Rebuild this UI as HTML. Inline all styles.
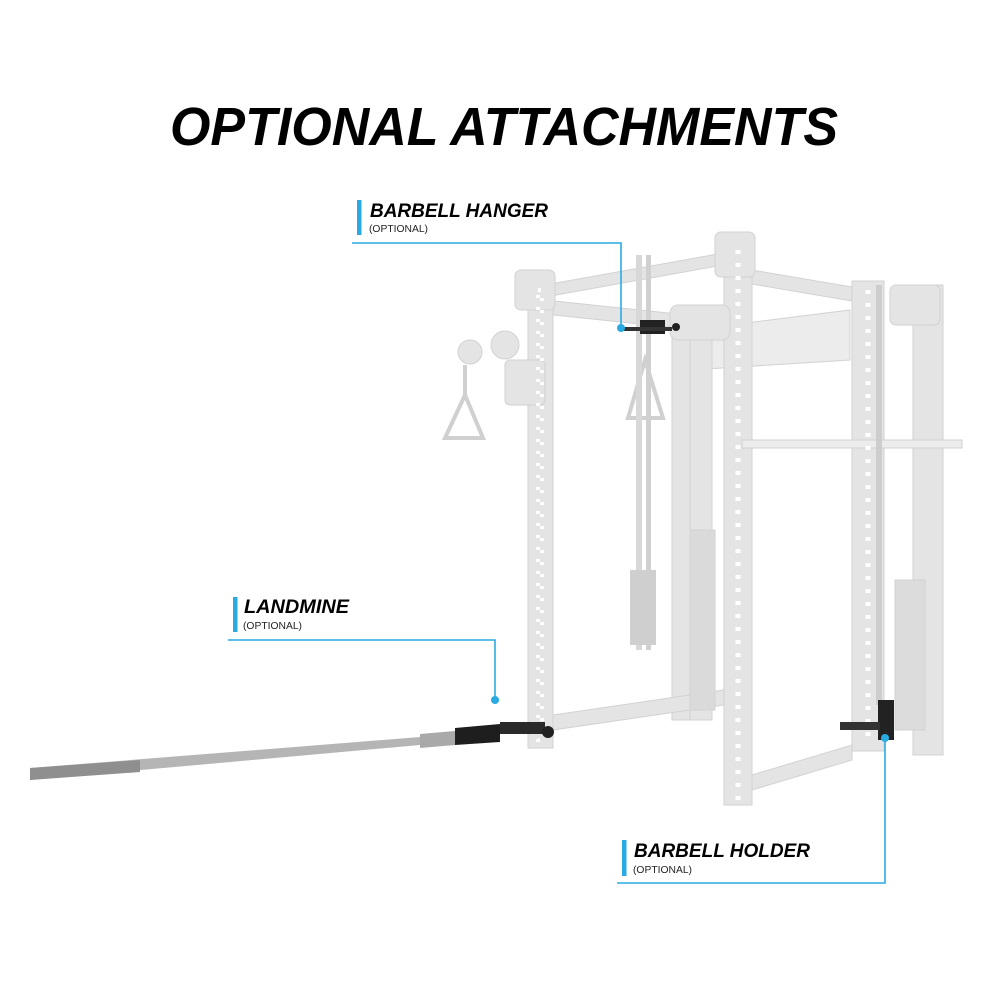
<!DOCTYPE html>
<html><head><meta charset="utf-8"><style>
html,body{margin:0;padding:0;background:#fff;}
svg{display:block;}
.t{font-family:"Liberation Sans",sans-serif;font-weight:bold;font-style:italic;fill:#000;}
.o{font-family:"Liberation Sans",sans-serif;font-size:10px;fill:#222;}
</style></head><body>
<svg width="1000" height="1000" viewBox="0 0 1000 1000" xmlns="http://www.w3.org/2000/svg">
<rect width="1000" height="1000" fill="#fff"/>
<text x="170" y="145" class="t" font-size="54" textLength="668" lengthAdjust="spacingAndGlyphs">OPTIONAL ATTACHMENTS</text>

<g fill="#e4e4e4" stroke="#d2d2d2" stroke-width="1">
 <polygon points="545,285 740,250 740,262 545,297"/>
 <polygon points="545,300 715,318 715,332 545,314"/>
 <polygon points="740,268 870,290 870,304 740,282"/>
 <polygon points="690,330 850,310 850,360 690,370" fill="#ececec"/>
 <rect x="672" y="320" width="20" height="400"/>
 <rect x="690" y="330" width="22" height="390"/>
 <rect x="913" y="285" width="30" height="470"/>
 <rect x="895" y="580" width="30" height="150" fill="#dcdcdc"/>
 <rect x="528" y="276" width="25" height="472"/>
 <rect x="724" y="240" width="28" height="565"/>
 <rect x="852" y="281" width="32" height="470"/>
 <polygon points="553,715 724,690 724,705 553,730"/>
 <polygon points="752,775 852,745 852,760 752,790"/>
 <rect x="515" y="270" width="40" height="40" rx="6"/>
 <rect x="715" y="232" width="40" height="45" rx="6"/>
 <rect x="890" y="285" width="50" height="40" rx="6"/>
 <rect x="670" y="305" width="60" height="35" rx="8"/>
 <rect x="505" y="360" width="40" height="45" rx="5"/>
 <circle cx="470" cy="352" r="12"/>
 <circle cx="505" cy="345" r="14"/>
 <rect x="742" y="440" width="220" height="8" fill="#ececec"/>
 <rect x="690" y="530" width="25" height="180" fill="#dadada"/>
</g>
<g fill="#fff">
 <rect x="538" y="290" width="4" height="450" fill="none" stroke="#fff" stroke-dasharray="3 9" stroke-width="4"/>
 <line x1="738" y1="250" x2="738" y2="800" stroke="#fff" stroke-width="5" stroke-dasharray="4 9"/>
 <line x1="868" y1="290" x2="868" y2="745" stroke="#fff" stroke-width="5" stroke-dasharray="4 9"/>
</g>
<g fill="none" stroke="#d0d0d0" stroke-width="4">
 <polygon points="465,395 445,438 483,438"/>
 <polygon points="645,360 628,418 663,418"/>
 <line x1="465" y1="365" x2="465" y2="395"/>
</g>
<rect x="636" y="255" width="6" height="395" fill="#d8d8d8"/>
<rect x="646" y="255" width="5" height="395" fill="#d0d0d0"/>
<rect x="630" y="570" width="26" height="75" fill="#cfcfcf"/>
<rect x="876" y="285" width="6" height="420" fill="#cdcdcd"/>
<rect x="640" y="320" width="25" height="14" fill="#222"/>
<rect x="622" y="327" width="50" height="4" fill="#333"/>
<circle cx="676" cy="327" r="4" fill="#222"/>
<rect x="878" y="700" width="16" height="40" fill="#222"/>
<rect x="840" y="722" width="40" height="8" fill="#333"/>
<polygon points="30,768 420,737 420,745 30,780" fill="#b5b5b5"/>
<polygon points="30,768 140,760 140,772 30,780" fill="#8f8f8f"/>
<polygon points="420,734 455,731 455,745 420,748" fill="#a9a9a9"/>
<polygon points="455,728 500,724 500,742 455,745" fill="#1e1e1e"/>
<rect x="500" y="722" width="45" height="12" fill="#2a2a2a"/>
<circle cx="548" cy="732" r="6" fill="#222"/>

<g fill="#29abe2" stroke="none">
 <rect x="357" y="200" width="4.5" height="35"/>
 <rect x="233" y="597" width="4.5" height="35"/>
 <rect x="622" y="840" width="4.5" height="36"/>
 <circle cx="621" cy="328" r="4"/>
 <circle cx="495" cy="700" r="4"/>
 <circle cx="885" cy="738" r="4"/>
</g>
<g fill="none" stroke="#29abe2" stroke-width="1.6">
 <polyline points="352,243 621,243 621,328"/>
 <polyline points="228,640 495,640 495,700"/>
 <polyline points="617,883 885,883 885,738"/>
</g>
<text x="370" y="217" class="t" font-size="19" textLength="178" lengthAdjust="spacingAndGlyphs">BARBELL HANGER</text>
<text x="369" y="232" class="o" textLength="59" lengthAdjust="spacingAndGlyphs">(OPTIONAL)</text>
<text x="244" y="613" class="t" font-size="19" textLength="105" lengthAdjust="spacingAndGlyphs">LANDMINE</text>
<text x="243" y="629" class="o" textLength="59" lengthAdjust="spacingAndGlyphs">(OPTIONAL)</text>
<text x="634" y="857" class="t" font-size="19" textLength="176" lengthAdjust="spacingAndGlyphs">BARBELL HOLDER</text>
<text x="633" y="873" class="o" textLength="59" lengthAdjust="spacingAndGlyphs">(OPTIONAL)</text>
</svg>
</body></html>
